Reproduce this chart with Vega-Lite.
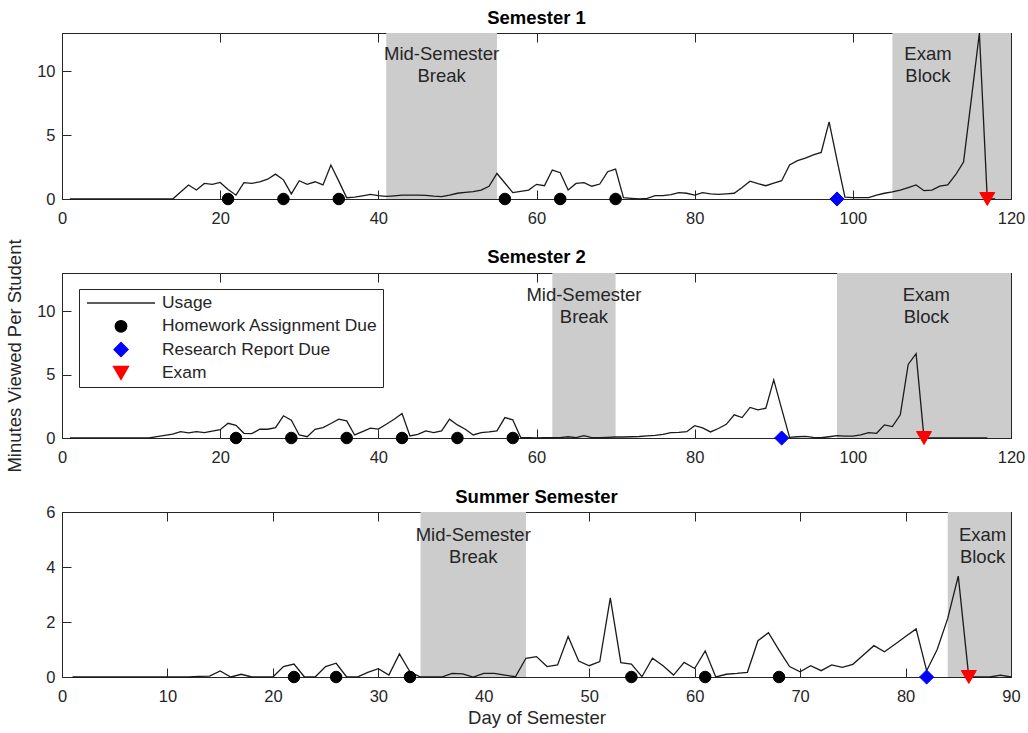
{
  "$schema": "https://vega.github.io/schema/vega-lite/v6.json",
  "autosize": {"type": "pad"},
  "padding": {"left": 5, "top": 8, "right": 5, "bottom": 5},
  "background": "white",
  "bounds": "flush",
  "spacing": 74,
  "datasets": {
    "s1": [
      {"day":1,"minutes":0},{"day":2,"minutes":0},{"day":3,"minutes":0},{"day":4,"minutes":0},{"day":5,"minutes":0},{"day":6,"minutes":0},{"day":7,"minutes":0},{"day":8,"minutes":0},{"day":9,"minutes":0},{"day":10,"minutes":0},
      {"day":11,"minutes":0},{"day":12,"minutes":0},{"day":13,"minutes":0},{"day":14,"minutes":0},{"day":15,"minutes":0.55},{"day":16,"minutes":1.1},{"day":17,"minutes":0.7},{"day":18,"minutes":1.22},{"day":19,"minutes":1.15},{"day":20,"minutes":1.3},
      {"day":21,"minutes":0.75},{"day":22,"minutes":0.3},{"day":23,"minutes":1.28},{"day":24,"minutes":1.22},{"day":25,"minutes":1.35},{"day":26,"minutes":1.55},{"day":27,"minutes":1.95},{"day":28,"minutes":1.5},{"day":29,"minutes":0.4},{"day":30,"minutes":1.43},
      {"day":31,"minutes":1.15},{"day":32,"minutes":1.35},{"day":33,"minutes":1.1},{"day":34,"minutes":2.66},{"day":35,"minutes":1.4},{"day":36,"minutes":0.1},{"day":37,"minutes":0.15},{"day":38,"minutes":0.25},{"day":39,"minutes":0.36},{"day":40,"minutes":0.26},
      {"day":41,"minutes":0.2},{"day":42,"minutes":0.25},{"day":43,"minutes":0.3},{"day":44,"minutes":0.3},{"day":45,"minutes":0.3},{"day":46,"minutes":0.28},{"day":47,"minutes":0.22},{"day":48,"minutes":0.18},{"day":49,"minutes":0.3},{"day":50,"minutes":0.45},
      {"day":51,"minutes":0.52},{"day":52,"minutes":0.57},{"day":53,"minutes":0.7},{"day":54,"minutes":1.0},{"day":55,"minutes":2.0},{"day":56,"minutes":1.25},{"day":57,"minutes":0.5},{"day":58,"minutes":0.6},{"day":59,"minutes":0.7},{"day":60,"minutes":1.15},
      {"day":61,"minutes":1.04},{"day":62,"minutes":2.27},{"day":63,"minutes":2.06},{"day":64,"minutes":0.7},{"day":65,"minutes":1.22},{"day":66,"minutes":1.28},{"day":67,"minutes":1.0},{"day":68,"minutes":1.17},{"day":69,"minutes":2.14},{"day":70,"minutes":2.34},
      {"day":71,"minutes":0.1},{"day":72,"minutes":0.05},{"day":73,"minutes":0},{"day":74,"minutes":0.05},{"day":75,"minutes":0.26},{"day":76,"minutes":0.26},{"day":77,"minutes":0.35},{"day":78,"minutes":0.5},{"day":79,"minutes":0.45},{"day":80,"minutes":0.3},
      {"day":81,"minutes":0.5},{"day":82,"minutes":0.4},{"day":83,"minutes":0.36},{"day":84,"minutes":0.4},{"day":85,"minutes":0.45},{"day":86,"minutes":0.9},{"day":87,"minutes":1.4},{"day":88,"minutes":1.2},{"day":89,"minutes":1.04},{"day":90,"minutes":1.25},
      {"day":91,"minutes":1.43},{"day":92,"minutes":2.66},{"day":93,"minutes":3.0},{"day":94,"minutes":3.2},{"day":95,"minutes":3.45},{"day":96,"minutes":3.65},{"day":97,"minutes":6.04},{"day":98,"minutes":3.05},{"day":99,"minutes":0.15},{"day":100,"minutes":0.1},
      {"day":101,"minutes":0.1},{"day":102,"minutes":0.1},{"day":103,"minutes":0.3},{"day":104,"minutes":0.45},{"day":105,"minutes":0.55},{"day":106,"minutes":0.7},{"day":107,"minutes":0.9},{"day":108,"minutes":1.1},{"day":109,"minutes":0.65},{"day":110,"minutes":0.7},
      {"day":111,"minutes":1.0},{"day":112,"minutes":1.1},{"day":113,"minutes":1.9},{"day":114,"minutes":2.9},{"day":115,"minutes":7.9},{"day":116,"minutes":13.0},{"day":117,"minutes":0},{"day":118,"minutes":0}
    ],
    "s2": [
      {"day":1,"minutes":0},{"day":2,"minutes":0},{"day":3,"minutes":0},{"day":4,"minutes":0},{"day":5,"minutes":0},{"day":6,"minutes":0},{"day":7,"minutes":0},{"day":8,"minutes":0},{"day":9,"minutes":0},{"day":10,"minutes":0},
      {"day":11,"minutes":0},{"day":12,"minutes":0.1},{"day":13,"minutes":0.2},{"day":14,"minutes":0.3},{"day":15,"minutes":0.5},{"day":16,"minutes":0.4},{"day":17,"minutes":0.5},{"day":18,"minutes":0.42},{"day":19,"minutes":0.55},{"day":20,"minutes":0.65},
      {"day":21,"minutes":1.16},{"day":22,"minutes":1.0},{"day":23,"minutes":0.37},{"day":24,"minutes":0.34},{"day":25,"minutes":0.69},{"day":26,"minutes":0.69},{"day":27,"minutes":0.82},{"day":28,"minutes":1.75},{"day":29,"minutes":1.4},{"day":30,"minutes":0.24},
      {"day":31,"minutes":0.1},{"day":32,"minutes":0.69},{"day":33,"minutes":0.82},{"day":34,"minutes":1.14},{"day":35,"minutes":1.48},{"day":36,"minutes":1.35},{"day":37,"minutes":0.24},{"day":38,"minutes":0.5},{"day":39,"minutes":0.77},{"day":40,"minutes":0.7},
      {"day":41,"minutes":1.08},{"day":42,"minutes":1.48},{"day":43,"minutes":1.93},{"day":44,"minutes":0.16},{"day":45,"minutes":0.29},{"day":46,"minutes":0.56},{"day":47,"minutes":0.42},{"day":48,"minutes":0.56},{"day":49,"minutes":1.48},{"day":50,"minutes":1.03},
      {"day":51,"minutes":0.69},{"day":52,"minutes":0.24},{"day":53,"minutes":0.42},{"day":54,"minutes":0.48},{"day":55,"minutes":0.56},{"day":56,"minutes":1.61},{"day":57,"minutes":1.43},{"day":58,"minutes":0.03},{"day":59,"minutes":0.02},{"day":60,"minutes":0},
      {"day":61,"minutes":0.02},{"day":62,"minutes":0.02},{"day":63,"minutes":0.03},{"day":64,"minutes":0.1},{"day":65,"minutes":0.03},{"day":66,"minutes":0.18},{"day":67,"minutes":0.03},{"day":68,"minutes":0.03},{"day":69,"minutes":0.05},{"day":70,"minutes":0.08},
      {"day":71,"minutes":0.08},{"day":72,"minutes":0.1},{"day":73,"minutes":0.12},{"day":74,"minutes":0.16},{"day":75,"minutes":0.2},{"day":76,"minutes":0.29},{"day":77,"minutes":0.42},{"day":78,"minutes":0.45},{"day":79,"minutes":0.5},{"day":80,"minutes":0.97},
      {"day":81,"minutes":0.8},{"day":82,"minutes":0.48},{"day":83,"minutes":0.75},{"day":84,"minutes":1.08},{"day":85,"minutes":1.83},{"day":86,"minutes":1.61},{"day":87,"minutes":2.41},{"day":88,"minutes":2.22},{"day":89,"minutes":2.35},{"day":90,"minutes":4.58},
      {"day":91,"minutes":2.3},{"day":92,"minutes":0.05},{"day":93,"minutes":0.1},{"day":94,"minutes":0.13},{"day":95,"minutes":0.05},{"day":96,"minutes":0.02},{"day":97,"minutes":0.1},{"day":98,"minutes":0.18},{"day":99,"minutes":0.15},{"day":100,"minutes":0.15},
      {"day":101,"minutes":0.24},{"day":102,"minutes":0.42},{"day":103,"minutes":0.37},{"day":104,"minutes":1.03},{"day":105,"minutes":0.9},{"day":106,"minutes":1.83},{"day":107,"minutes":5.8},{"day":108,"minutes":6.64},{"day":109,"minutes":0},{"day":110,"minutes":0},
      {"day":111,"minutes":0},{"day":112,"minutes":0},{"day":113,"minutes":0},{"day":114,"minutes":0},{"day":115,"minutes":0},{"day":116,"minutes":0},{"day":117,"minutes":0}
    ],
    "s3": [
      {"day":1,"minutes":0},{"day":2,"minutes":0},{"day":3,"minutes":0},{"day":4,"minutes":0},{"day":5,"minutes":0},{"day":6,"minutes":0},{"day":7,"minutes":0},{"day":8,"minutes":0},{"day":9,"minutes":0},{"day":10,"minutes":0},
      {"day":11,"minutes":0},{"day":12,"minutes":0},{"day":13,"minutes":0.02},{"day":14,"minutes":0.03},{"day":15,"minutes":0.22},{"day":16,"minutes":0},{"day":17,"minutes":0.1},{"day":18,"minutes":0},{"day":19,"minutes":0},{"day":20,"minutes":0},
      {"day":21,"minutes":0.38},{"day":22,"minutes":0.47},{"day":23,"minutes":0},{"day":24,"minutes":0},{"day":25,"minutes":0.38},{"day":26,"minutes":0.5},{"day":27,"minutes":0},{"day":28,"minutes":0},{"day":29,"minutes":0.17},{"day":30,"minutes":0.3},
      {"day":31,"minutes":0.07},{"day":32,"minutes":0.84},{"day":33,"minutes":0.19},{"day":34,"minutes":0},{"day":35,"minutes":0},{"day":36,"minutes":0},{"day":37,"minutes":0.13},{"day":38,"minutes":0.11},{"day":39,"minutes":0},{"day":40,"minutes":0.13},
      {"day":41,"minutes":0.13},{"day":42,"minutes":0.07},{"day":43,"minutes":0.01},{"day":44,"minutes":0.68},{"day":45,"minutes":0.74},{"day":46,"minutes":0.38},{"day":47,"minutes":0.44},{"day":48,"minutes":1.47},{"day":49,"minutes":0.58},{"day":50,"minutes":0.41},
      {"day":51,"minutes":0.56},{"day":52,"minutes":2.88},{"day":53,"minutes":0.52},{"day":54,"minutes":0.47},{"day":55,"minutes":0.01},{"day":56,"minutes":0.68},{"day":57,"minutes":0.41},{"day":58,"minutes":0.07},{"day":59,"minutes":0.53},{"day":60,"minutes":0.31},
      {"day":61,"minutes":0.95},{"day":62,"minutes":0},{"day":63,"minutes":0.1},{"day":64,"minutes":0.13},{"day":65,"minutes":0.17},{"day":66,"minutes":1.32},{"day":67,"minutes":1.61},{"day":68,"minutes":0.98},{"day":69,"minutes":0.38},{"day":70,"minutes":0.19},
      {"day":71,"minutes":0.41},{"day":72,"minutes":0.23},{"day":73,"minutes":0.44},{"day":74,"minutes":0.35},{"day":75,"minutes":0.46},{"day":76,"minutes":0.8},{"day":77,"minutes":1.14},{"day":78,"minutes":0.92},{"day":79,"minutes":1.19},{"day":80,"minutes":1.47},
      {"day":81,"minutes":1.75},{"day":82,"minutes":0.23},{"day":83,"minutes":1.0},{"day":84,"minutes":2.13},{"day":85,"minutes":3.67},{"day":86,"minutes":0},{"day":87,"minutes":0},{"day":88,"minutes":0},{"day":89,"minutes":0.07},{"day":90,"minutes":0}
    ],
    "e1": [
      {"day":21,"type":"Homework Assignment Due"},{"day":28,"type":"Homework Assignment Due"},{"day":35,"type":"Homework Assignment Due"},
      {"day":56,"type":"Homework Assignment Due"},{"day":63,"type":"Homework Assignment Due"},{"day":70,"type":"Homework Assignment Due"},
      {"day":98,"type":"Research Report Due"},{"day":117,"type":"Exam"}
    ],
    "e2": [
      {"day":22,"type":"Homework Assignment Due"},{"day":29,"type":"Homework Assignment Due"},{"day":36,"type":"Homework Assignment Due"},
      {"day":43,"type":"Homework Assignment Due"},{"day":50,"type":"Homework Assignment Due"},{"day":57,"type":"Homework Assignment Due"},
      {"day":91,"type":"Research Report Due"},{"day":109,"type":"Exam"}
    ],
    "e3": [
      {"day":22,"type":"Homework Assignment Due"},{"day":26,"type":"Homework Assignment Due"},{"day":33,"type":"Homework Assignment Due"},
      {"day":54,"type":"Homework Assignment Due"},{"day":61,"type":"Homework Assignment Due"},{"day":68,"type":"Homework Assignment Due"},
      {"day":82,"type":"Research Report Due"},{"day":86,"type":"Exam"}
    ],
    "p1": [{"period":"Mid-Semester Break","start":41,"end":55},{"period":"Exam Block","start":105,"end":120}],
    "p2": [{"period":"Mid-Semester Break","start":62,"end":70},{"period":"Exam Block","start":98,"end":120}],
    "p3": [{"period":"Mid-Semester Break","start":34,"end":44},{"period":"Exam Block","start":84,"end":90}],
    "t1": [{"label":"Mid-Semester\nBreak","day":48},{"label":"Exam\nBlock","day":109.5}],
    "t2": [{"label":"Mid-Semester\nBreak","day":66},{"label":"Exam\nBlock","day":109.3}],
    "t3": [{"label":"Mid-Semester\nBreak","day":39},{"label":"Exam\nBlock","day":87.3}]
  },
  "vconcat": [
    {
      "title": {"text": "Semester 1"},
      "width": 949, "height": 166,
      "resolve": {"axis": {"x": "independent", "y": "independent"}},
      "layer": [
        {"data": {"name": "p1"}, "mark": {"type": "rect", "fill": "#cccccc"},
         "encoding": {
           "x": {"field": "start", "type": "quantitative", "scale": {"domain": [0, 120], "nice": false}, "axis": {"orient": "top", "labels": false, "title": null, "values": [0,20,40,60,80,100,120]}},
           "x2": {"field": "end"},
           "y": {"datum": 0, "type": "quantitative", "scale": {"domain": [0, 13], "nice": false}, "axis": {"orient": "right", "labels": false, "title": null, "values": [0,5,10]}},
           "y2": {"datum": 13}}},
        {"data": {"name": "t1"}, "mark": {"type": "text", "baseline": "top", "align": "center", "lineBreak": "\n", "lineHeight": 22, "fontSize": 18.5, "font": "Liberation Sans", "color": "#262626", "dy": 12},
         "encoding": {"x": {"field": "day", "type": "quantitative", "axis": null}, "y": {"datum": 13, "type": "quantitative", "axis": null}, "text": {"field": "label"}}},
        {"data": {"name": "s1"}, "mark": {"type": "line", "color": "#1a1a1a", "strokeWidth": 1.3},
         "encoding": {"x": {"field": "day", "type": "quantitative", "axis": {"values": [0,20,40,60,80,100,120], "title": null}}, "y": {"field": "minutes", "type": "quantitative", "axis": {"values": [0,5,10], "title": null}}}},
        {"data": {"name": "e1"}, "mark": {"type": "point", "filled": true, "opacity": 1, "strokeWidth": 1},
         "encoding": {
           "x": {"field": "day", "type": "quantitative", "axis": null},
           "y": {"datum": 0, "type": "quantitative", "axis": null},
           "fill": {"field": "type", "type": "nominal", "scale": {"domain": ["Usage","Homework Assignment Due","Research Report Due","Exam"], "range": ["#262626","#000000","#0000ff","#ff0000"]}, "legend": {"title": null}},
           "stroke": {"field": "type", "type": "nominal", "scale": {"domain": ["Usage","Homework Assignment Due","Research Report Due","Exam"], "range": ["#262626","#000000","#0000ff","#ff0000"]}, "legend": {"title": null}},
           "shape": {"field": "type", "type": "nominal", "scale": {"domain": ["Usage","Homework Assignment Due","Research Report Due","Exam"], "range": ["stroke","circle","diamond","triangle-down"]}, "legend": {"title": null}},
           "size": {"field": "type", "type": "nominal", "scale": {"type": "ordinal", "domain": ["Usage","Homework Assignment Due","Research Report Due","Exam"], "range": [4624,133,200,225]}, "legend": {"title": null}}}}
      ]
    },
    {
      "title": {"text": "Semester 2", "offset": -27.5},
      "width": 949, "height": 165,
      "resolve": {"axis": {"x": "independent", "y": "independent"}},
      "layer": [
        {"data": {"name": "p2"}, "mark": {"type": "rect", "fill": "#cccccc"},
         "encoding": {
           "x": {"field": "start", "type": "quantitative", "scale": {"domain": [0, 120], "nice": false}, "axis": {"orient": "top", "labels": false, "title": null, "values": [0,20,40,60,80,100,120]}},
           "x2": {"field": "end"},
           "y": {"datum": 0, "type": "quantitative", "scale": {"domain": [0, 13], "nice": false}, "axis": {"orient": "right", "labels": false, "title": null, "values": [0,5,10]}},
           "y2": {"datum": 13}}},
        {"data": {"name": "t2"}, "mark": {"type": "text", "baseline": "top", "align": "center", "lineBreak": "\n", "lineHeight": 22, "fontSize": 18.5, "font": "Liberation Sans", "color": "#262626", "dy": 13},
         "encoding": {"x": {"field": "day", "type": "quantitative", "axis": null}, "y": {"datum": 13, "type": "quantitative", "axis": null}, "text": {"field": "label"}}},
        {"data": {"name": "s2"}, "mark": {"type": "line", "color": "#1a1a1a", "strokeWidth": 1.3},
         "encoding": {"x": {"field": "day", "type": "quantitative", "axis": {"values": [0,20,40,60,80,100,120], "title": null}}, "y": {"field": "minutes", "type": "quantitative", "axis": {"values": [0,5,10], "title": "Minutes Viewed Per Student", "titlePadding": 12}}}},
        {"data": {"name": "e2"}, "mark": {"type": "point", "filled": true, "opacity": 1, "strokeWidth": 1},
         "encoding": {
           "x": {"field": "day", "type": "quantitative", "axis": null},
           "y": {"datum": 0, "type": "quantitative", "axis": null},
           "fill": {"field": "type", "type": "nominal", "scale": {"domain": ["Usage","Homework Assignment Due","Research Report Due","Exam"], "range": ["#262626","#000000","#0000ff","#ff0000"]}, "legend": {"title": null}},
           "stroke": {"field": "type", "type": "nominal", "scale": {"domain": ["Usage","Homework Assignment Due","Research Report Due","Exam"], "range": ["#262626","#000000","#0000ff","#ff0000"]}, "legend": {"title": null}},
           "shape": {"field": "type", "type": "nominal", "scale": {"domain": ["Usage","Homework Assignment Due","Research Report Due","Exam"], "range": ["stroke","circle","diamond","triangle-down"]}, "legend": {"title": null}},
           "size": {"field": "type", "type": "nominal", "scale": {"type": "ordinal", "domain": ["Usage","Homework Assignment Due","Research Report Due","Exam"], "range": [4624,133,200,225]}, "legend": {"title": null}}}}
      ]
    },
    {
      "title": {"text": "Summer Semester", "offset": -2.5},
      "width": 949, "height": 165,
      "resolve": {"axis": {"x": "independent", "y": "independent"}},
      "layer": [
        {"data": {"name": "p3"}, "mark": {"type": "rect", "fill": "#cccccc"},
         "encoding": {
           "x": {"field": "start", "type": "quantitative", "scale": {"domain": [0, 90], "nice": false}, "axis": {"orient": "top", "labels": false, "title": null, "values": [0,10,20,30,40,50,60,70,80,90]}},
           "x2": {"field": "end"},
           "y": {"datum": 0, "type": "quantitative", "scale": {"domain": [0, 6], "nice": false}, "axis": {"orient": "right", "labels": false, "title": null, "values": [0,2,4,6]}},
           "y2": {"datum": 6}}},
        {"data": {"name": "t3"}, "mark": {"type": "text", "baseline": "top", "align": "center", "lineBreak": "\n", "lineHeight": 22, "fontSize": 18.5, "font": "Liberation Sans", "color": "#262626", "dy": 14},
         "encoding": {"x": {"field": "day", "type": "quantitative", "axis": null}, "y": {"datum": 6, "type": "quantitative", "axis": null}, "text": {"field": "label"}}},
        {"data": {"name": "s3"}, "mark": {"type": "line", "color": "#1a1a1a", "strokeWidth": 1.3},
         "encoding": {"x": {"field": "day", "type": "quantitative", "axis": {"values": [0,10,20,30,40,50,60,70,80,90], "title": "Day of Semester", "titlePadding": 4}}, "y": {"field": "minutes", "type": "quantitative", "axis": {"values": [0,2,4,6], "title": null}}}},
        {"data": {"name": "e3"}, "mark": {"type": "point", "filled": true, "opacity": 1, "strokeWidth": 1},
         "encoding": {
           "x": {"field": "day", "type": "quantitative", "axis": null},
           "y": {"datum": 0, "type": "quantitative", "axis": null},
           "fill": {"field": "type", "type": "nominal", "scale": {"domain": ["Usage","Homework Assignment Due","Research Report Due","Exam"], "range": ["#262626","#000000","#0000ff","#ff0000"]}, "legend": {"title": null}},
           "stroke": {"field": "type", "type": "nominal", "scale": {"domain": ["Usage","Homework Assignment Due","Research Report Due","Exam"], "range": ["#262626","#000000","#0000ff","#ff0000"]}, "legend": {"title": null}},
           "shape": {"field": "type", "type": "nominal", "scale": {"domain": ["Usage","Homework Assignment Due","Research Report Due","Exam"], "range": ["stroke","circle","diamond","triangle-down"]}, "legend": {"title": null}},
           "size": {"field": "type", "type": "nominal", "scale": {"type": "ordinal", "domain": ["Usage","Homework Assignment Due","Research Report Due","Exam"], "range": [4624,133,200,225]}, "legend": {"title": null}}}}
      ]
    }
  ],
  "config": {
    "view": {"stroke": "#262626", "strokeWidth": 1},
    "title": {"font": "Liberation Sans", "fontSize": 18.5, "fontWeight": "bold", "color": "#000000", "baseline": "alphabetic", "offset": 2.5, "anchor": "middle", "frame": "group"},
    "axis": {"grid": false, "domainColor": "#262626", "tickColor": "#262626", "labelColor": "#262626", "labelFont": "Liberation Sans", "labelFontSize": 16.5, "labelFlush": false, "titleFont": "Liberation Sans", "titleFontSize": 18.5, "titleFontWeight": "normal", "titleColor": "#262626", "tickSize": -9, "domainWidth": 1, "tickWidth": 1},
    "axisBottom": {"labelPadding": 20},
    "axisLeft": {"labelPadding": 16},
    "legend": {"orient": "none", "legendX": 17, "legendY": 256, "strokeColor": "#262626", "fillColor": "white", "padding": 5, "rowPadding": 5.3, "clipHeight": 18, "symbolOffset": 2, "labelOffset": 6, "labelLimit": 0, "labelFont": "Liberation Sans", "labelFontSize": 17.4, "labelColor": "#262626", "symbolStrokeWidth": 1.3}
  }
}
